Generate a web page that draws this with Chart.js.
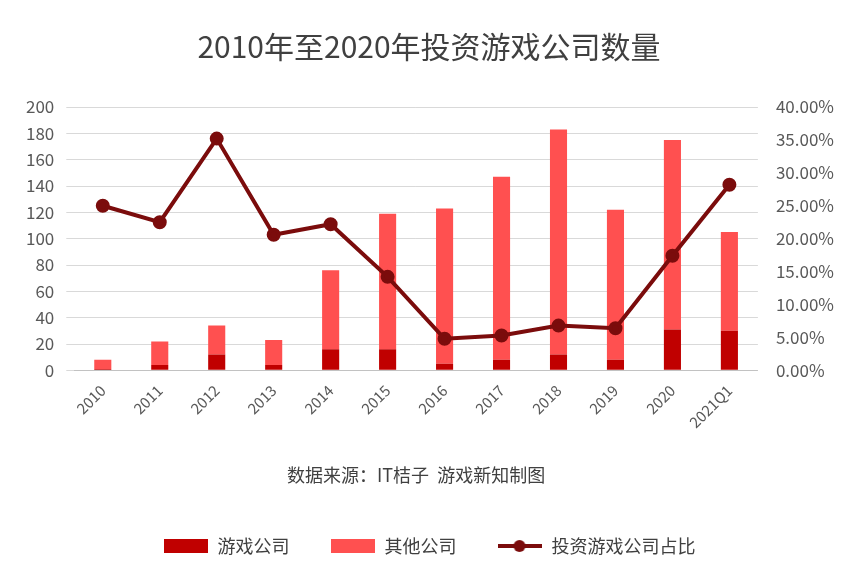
<!DOCTYPE html>
<html><head><meta charset="utf-8">
<script src="https://cdn.jsdelivr.net/npm/chart.js@4"></script>
<style>body{margin:0;background:#fff}#w{width:864px;height:575px}</style>
</head><body><div id="w"><canvas id="c"></canvas></div>
<script>
const categories=['2010','2011','2012','2013','2014','2015','2016','2017','2018','2019','2020','2021Q1'];
const gameCompanies=[1,4,12,4,16,16,5,8,12,8,31,30];
const otherCompanies=[7,18,22,19,60,103,118,139,171,114,144,75];
const gameRatio=[25.0,22.5,35.2,20.6,22.2,14.2,4.8,5.3,6.8,6.4,17.4,28.2];
const F='"Microsoft YaHei","Noto Sans CJK SC",sans-serif';
function mk(kind,color){const c=document.createElement('canvas');c.width=44;c.height=14;const g=c.getContext('2d');g.fillStyle=color;g.strokeStyle=color;
 if(kind==='line'){g.lineWidth=4;g.beginPath();g.moveTo(0,7);g.lineTo(44,7);g.stroke();g.beginPath();g.arc(22,7,6,0,Math.PI*2);g.fill();}
 else g.fillRect(0,0,44,14);return c;}
new Chart(document.getElementById('c'),{
 data:{labels:categories,datasets:[
  {type:'bar',label:'游戏公司',data:gameCompanies,backgroundColor:'#c00000',stack:'s',barPercentage:0.3,categoryPercentage:1,order:1,pointStyle:mk('bar','#c00000')},
  {type:'bar',label:'其他公司',data:otherCompanies,backgroundColor:'#ff5050',stack:'s',barPercentage:0.3,categoryPercentage:1,order:1,pointStyle:mk('bar','#ff5050')},
  {type:'line',label:'投资游戏公司占比',data:gameRatio,yAxisID:'y1',borderColor:'#7b0c0c',backgroundColor:'#7b0c0c',borderWidth:4,pointRadius:5,pointBackgroundColor:'#7b0c0c',order:0,pointStyle:'circle'}
 ]},
 options:{responsive:true,maintainAspectRatio:false,animation:false,
  layout:{padding:{left:14,right:20,top:14,bottom:10}},
  plugins:{title:{display:true,text:'2010年至2020年投资游戏公司数量',font:{family:F,size:30,weight:'normal'},color:'#404040',padding:{top:15,bottom:42}},
   legend:{position:'bottom',labels:{font:{family:F,size:18},color:'#404040',usePointStyle:true,pointStyleWidth:46,padding:40,
     sort:(a,b)=>a.datasetIndex-b.datasetIndex,
     generateLabels:ch=>{const items=Chart.defaults.plugins.legend.labels.generateLabels(ch);items.forEach(it=>{it.pointStyle=it.datasetIndex===2?mk('line','#7b0c0c'):ch.data.datasets[it.datasetIndex].pointStyle;});return items;}}}},
  scales:{
   x:{stacked:true,grid:{display:false},ticks:{maxRotation:45,minRotation:45,font:{family:F,size:15},color:'#595959'},
      title:{display:true,text:'数据来源：IT桔子  游戏新知制图',font:{family:F,size:18},color:'#404040',padding:{top:30,bottom:11}}},
   y:{stacked:true,min:0,max:200,ticks:{stepSize:20,padding:12,font:{family:F,size:17},color:'#595959'},grid:{color:'#d9d9d9'},border:{display:false}},
   y1:{position:'right',min:0,max:40,ticks:{stepSize:5,padding:10,callback:v=>v.toFixed(2)+'%',font:{family:F,size:17},color:'#595959'},grid:{display:false},border:{display:false}}
  }}
});
</script></body></html>
